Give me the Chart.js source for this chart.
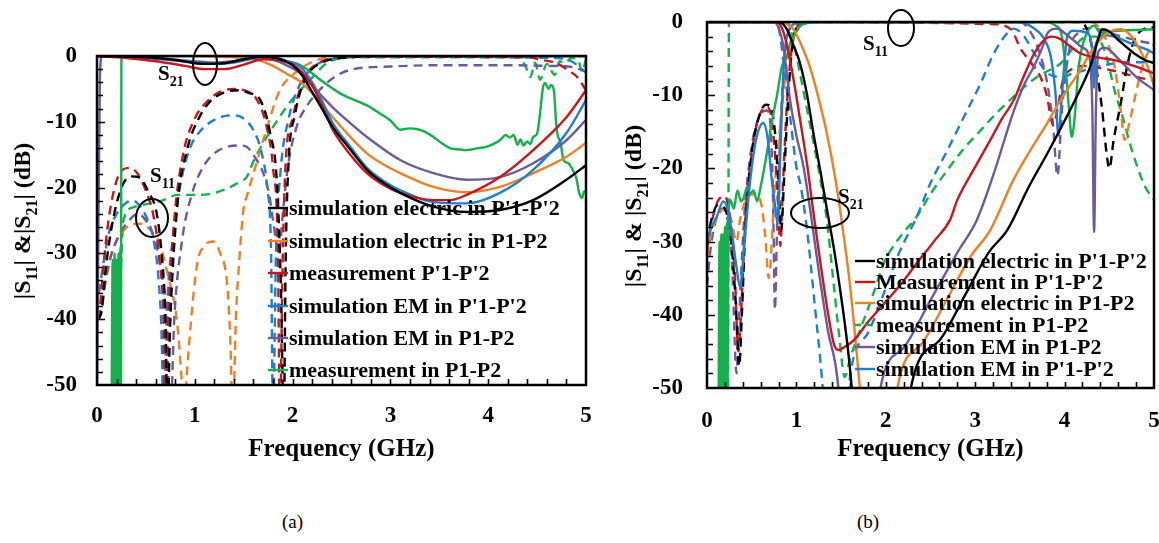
<!DOCTYPE html>
<html>
<head>
<meta charset="utf-8">
<script src="https://cdn.jsdelivr.net/npm/chart.js@4.4.0/dist/chart.umd.min.js"></script>
<style>
    body { margin: 0; background: #fff; width: 1159px; height: 543px; position: relative; overflow: hidden; }
    #chartA { position: absolute; left: 0; top: 0; }
    #chartB { position: absolute; left: 600px; top: 0; }
    .legenda { position: absolute; top: 511px; font: 19px 'Liberation Serif', 'Times New Roman', serif; color: #000; }
</style>
</head>
<body>
<canvas id="chartA" width="600" height="480"></canvas>
<canvas id="chartB" width="559" height="480"></canvas>
<div class="legenda" style="left:282px">(a)</div>
<div class="legenda" style="left:857px">(b)</div>
<script>
// tick values
const xTicks = [0, 1, 2, 3, 4, 5];
const yTicks = [0, -10, -20, -30, -40, -50];

// ---- (a) [GHz, dB] ----
const aBlackS21 = [[0,0],[0.5,-0.2],[0.8,-0.6],[1.1,-1.2],[1.3,-1.1],[1.5,-0.5],[1.7,-0.1],[1.85,-0.4],[2.0,-1.4],[2.1,-3.0],[2.2,-5.5],[2.3,-8],[2.41,-10.8],[2.59,-14.2],[2.76,-17.3],[2.93,-19.3],[3.1,-20.8],[3.44,-22.9],[3.78,-23.7],[4.12,-23.4],[4.46,-21.9],[4.8,-18.8],[5,-16.6]];
const aOrangeS21 = [[0,0],[1.0,0],[1.4,-0.2],[1.64,-0.6],[1.8,-1.5],[1.95,-2.8],[2.08,-3.9],[2.25,-6.5],[2.41,-9.3],[2.59,-12.3],[2.76,-14.8],[2.93,-16.5],[3.1,-17.8],[3.44,-19.9],[3.78,-20.7],[4.12,-19.9],[4.46,-17.8],[4.8,-15.3],[5,-13.2]];
const aRedS21 = [[0,0],[0.3,-0.3],[0.6,-0.8],[0.9,-1.5],[1.1,-2.0],[1.3,-2.0],[1.5,-1.3],[1.7,-0.5],[1.85,-0.6],[2.0,-1.3],[2.1,-2.5],[2.2,-4.5],[2.3,-7.5],[2.41,-11.2],[2.59,-15],[2.76,-17.8],[2.93,-19.6],[3.1,-20.8],[3.44,-21.9],[3.61,-21.9],[3.78,-21.1],[4.12,-18.4],[4.46,-14.3],[4.8,-9.3],[5,-5.2]];
const aBlueS21 = [[0,0],[0.5,-0.3],[0.9,-0.8],[1.2,-1.2],[1.4,-1.0],[1.6,-0.4],[1.8,-0.2],[1.95,-0.8],[2.08,-1.6],[2.2,-4],[2.3,-6.8],[2.41,-10.2],[2.59,-13.8],[2.76,-17],[2.93,-19],[3.1,-20.4],[3.44,-22.2],[3.78,-22.4],[4.12,-20.8],[4.46,-17.3],[4.8,-11.7],[5,-6.7]];
const aPurpleS21 = [[0,-52],[0.015,-25],[0.03,-3],[0.05,0],[0.6,-0.3],[1.0,-0.8],[1.2,-1.0],[1.4,-0.8],[1.6,-0.4],[1.8,-0.6],[1.95,-1.5],[2.08,-2.6],[2.2,-4.5],[2.41,-7.8],[2.59,-10.2],[2.76,-12.3],[3.1,-15.8],[3.44,-17.8],[3.78,-18.8],[4.12,-18.4],[4.46,-16.3],[4.8,-12.8],[5,-9.7]];
const aGreenS21 = [[0.15,-52],[0.16,-31],[0.17,-52],[0.18,-30],[0.19,-52],[0.2,-31],[0.21,-52],[0.22,-30],[0.23,-52],[0.24,-29],[0.245,-52],[0.25,0],[1.5,0],[1.7,-0.2],[1.9,-0.7],[2.08,-1.4],[2.3,-3.8],[2.5,-5.8],[2.76,-7.5],[2.9,-8.8],[3.0,-9.8],[3.1,-11.2],[3.2,-11.0],[3.27,-11.1],[3.35,-11.5],[3.44,-12.3],[3.52,-13.2],[3.61,-14.0],[3.7,-14.2],[3.78,-14.3],[3.9,-14.0],[3.98,-13.8],[4.05,-13.4],[4.12,-12.8],[4.18,-12.0],[4.22,-12.4],[4.26,-12.0],[4.3,-13.5],[4.33,-12.7],[4.36,-13.6],[4.4,-13.0],[4.43,-13.4],[4.46,-12.3],[4.5,-11.8],[4.53,-8.7],[4.56,-4.8],[4.58,-4.1],[4.62,-5.0],[4.64,-4.4],[4.67,-5.1],[4.7,-11.2],[4.74,-13.2],[4.77,-15.8],[4.82,-16.3],[4.86,-17.2],[4.9,-18.5],[4.93,-20.8],[4.96,-21.6],[4.98,-20.6],[5,-20.7]];

const aBlackS11 = [[0.01,-40],[0.05,-38.6],[0.08,-33.6],[0.15,-26],[0.25,-20],[0.35,-18.3],[0.44,-18.5],[0.52,-20.5],[0.61,-23.9],[0.66,-30],[0.7,-40],[0.72,-55],[0.75,-40],[0.82,-23],[0.92,-14.3],[1.05,-9.2],[1.15,-7],[1.29,-5.6],[1.45,-5.2],[1.55,-5.6],[1.67,-6.7],[1.77,-11.7],[1.84,-19.3],[1.88,-35],[1.91,-55],[1.93,-30],[1.96,-15.8],[2.02,-9.2],[2.11,-4.1],[2.3,-1],[2.6,-0.2],[3,0],[5,0]];
const aOrangeS11 = [[0.02,-40],[0.08,-35],[0.15,-30],[0.25,-27],[0.35,-25.6],[0.45,-25.5],[0.55,-26.5],[0.64,-28.5],[0.72,-33],[0.82,-40.6],[0.86,-48],[0.89,-55],[0.92,-48],[1.02,-32],[1.1,-28.8],[1.19,-28.2],[1.26,-30],[1.33,-34.5],[1.36,-42],[1.39,-55],[1.42,-40],[1.46,-30],[1.5,-23],[1.53,-21.4],[1.64,-15.8],[1.74,-10.8],[1.87,-5.2],[2.04,-2.4],[2.25,-0.6],[2.5,-0.1],[5,0]];
const aRedS11 = [[0.02,-40],[0.05,-35],[0.1,-27],[0.18,-20],[0.27,-17.2],[0.34,-17],[0.42,-18],[0.5,-20.5],[0.58,-24.5],[0.64,-31],[0.68,-40],[0.7,-55],[0.73,-40],[0.79,-25],[0.88,-15],[1.0,-9.5],[1.12,-7],[1.25,-5.5],[1.4,-5.0],[1.52,-5.3],[1.63,-6.5],[1.73,-10.5],[1.8,-17],[1.85,-30],[1.87,-55],[1.9,-30],[1.93,-16],[2.0,-9.5],[2.1,-4],[2.3,-0.8],[2.6,-0.1],[4.4,-0.2],[4.55,-0.6],[4.7,-1.1],[4.8,-2],[4.91,-3.2],[5,-5.2]];
const aBlueS11 = [[0.02,-36],[0.06,-32],[0.12,-27],[0.2,-24],[0.3,-22.3],[0.37,-22],[0.45,-23],[0.52,-25],[0.58,-28],[0.63,-34],[0.66,-42],[0.68,-55],[0.71,-40],[0.78,-27],[0.86,-19],[0.95,-14],[1.05,-11.5],[1.2,-9.7],[1.39,-9.0],[1.5,-9.5],[1.6,-11.3],[1.68,-14.5],[1.74,-20],[1.78,-30],[1.8,-55],[1.83,-30],[1.88,-17],[1.96,-9.5],[2.06,-4.8],[2.2,-1.8],[2.4,-0.5],[2.7,-0.1],[4.7,-0.3],[4.85,-0.8],[5,-2.5]];
const aPurpleS11 = [[0.02,-40],[0.05,-38],[0.1,-33],[0.2,-28],[0.3,-25.5],[0.42,-24],[0.5,-25],[0.58,-27.5],[0.65,-32],[0.71,-40],[0.75,-55],[0.79,-40],[0.87,-28],[0.97,-21],[1.1,-16.5],[1.25,-14.3],[1.46,-13.6],[1.53,-13.8],[1.62,-15.5],[1.7,-17.8],[1.76,-21],[1.8,-25],[1.86,-30],[1.9,-24],[1.95,-17],[2.04,-10.8],[2.15,-7.5],[2.25,-5.6],[2.4,-3.5],[2.59,-2.1],[3,-1.6],[3.51,-1.4],[4.2,-1.4],[4.6,-1.5],[4.87,-1.7],[5,-2.4]];
const aGreenS11 = [[0.21,-55],[0.23,-40],[0.25,-30],[0.27,-25],[0.37,-23],[0.54,-22.4],[0.68,-21.9],[0.82,-21.1],[1.05,-21.1],[1.29,-20.4],[1.45,-19.2],[1.53,-18.4],[1.6,-16],[1.7,-13.2],[1.87,-9.2],[2.0,-6.5],[2.15,-4.1],[2.35,-1.1],[2.6,-0.2],[4.3,-0.2],[4.38,-1.5],[4.43,-3.2],[4.48,-1.0],[4.53,-3.6],[4.6,-1.2],[4.68,-2.9],[4.73,-0.8],[4.78,-1.1],[4.85,-0.3],[4.92,-0.6],[4.96,-2.4],[5,-0.5]];

// ---- (b) [GHz, dB] ----
const bBlackS21 = [[0,0],[0.8,0],[0.89,-0.9],[0.96,-3],[1.04,-5.6],[1.12,-10],[1.19,-15.2],[1.27,-20.5],[1.34,-25.5],[1.42,-31],[1.5,-37.5],[1.57,-44],[1.62,-50],[1.66,-56],[2.24,-56],[2.28,-50],[2.6,-43.5],[2.9,-37],[3.15,-31.5],[3.36,-28.4],[3.6,-22.5],[3.81,-17.9],[4.0,-13.5],[4.18,-9.1],[4.29,-6],[4.36,-3],[4.42,-1],[4.5,-1.3],[4.56,-2],[4.67,-3.2],[4.78,-4.3],[4.9,-5.2],[5,-5.6]];
const bRedS21 = [[0,0],[0.78,0],[0.85,-1.2],[0.9,-3.5],[0.97,-8],[1.05,-14],[1.12,-19.5],[1.19,-26],[1.27,-33],[1.35,-39.5],[1.42,-44],[1.47,-44.8],[1.55,-44.3],[1.64,-43.5],[1.8,-41],[1.98,-38.5],[2.17,-35.8],[2.35,-32.9],[2.55,-29.8],[2.72,-27],[2.8,-24.3],[3.0,-19.8],[3.17,-16.1],[3.3,-13.2],[3.43,-10.7],[3.55,-7.2],[3.66,-4.3],[3.76,-2.6],[3.85,-2],[3.95,-2.3],[4.05,-3.2],[4.18,-4.3],[4.4,-4.9],[4.56,-5.2],[4.8,-6.1],[5,-7]];
const bOrangeS21 = [[0,0],[0.85,0],[0.92,-0.5],[0.97,-1],[1.05,-3],[1.15,-6.1],[1.25,-10.5],[1.34,-15.2],[1.43,-21],[1.51,-27.5],[1.6,-36],[1.71,-50],[1.75,-56],[2.09,-56],[2.13,-50],[2.4,-44],[2.7,-37.5],[2.95,-32],[3.17,-28.4],[3.43,-21.5],[3.81,-13.7],[4.0,-9.8],[4.18,-6.5],[4.3,-4],[4.45,-1.8],[4.55,-1.1],[4.63,-1],[4.75,-2],[4.85,-4],[4.93,-6.1],[5,-8.7]];
const bGreenS21 = [[0.2,-56],[0.235,-50],[0.24,-25],[0.245,0],[0.9,0],[0.97,-2.8],[1.04,-7],[1.12,-12],[1.2,-17],[1.27,-21.6],[1.34,-27],[1.41,-35],[1.48,-43],[1.54,-48.5],[1.6,-46],[1.7,-42.5],[1.85,-37.5],[1.98,-32.9],[2.15,-29.5],[2.35,-26.5],[2.5,-23.5],[2.69,-20.2],[2.88,-17.2],[3.06,-14.8],[3.25,-12.3],[3.43,-10.2],[3.69,-7.5],[3.96,-5.6],[4.1,-3.5],[4.25,-2],[4.35,-2],[4.45,-4],[4.56,-9.4],[4.65,-13],[4.74,-17],[4.82,-20],[4.9,-22.5],[5,-24.3]];
const bPurpleS21 = [[0,0],[0.75,0],[0.8,-0.8],[0.85,-3],[0.93,-10.7],[1.0,-15.5],[1.08,-19.8],[1.17,-27],[1.25,-34],[1.35,-42],[1.47,-50],[1.5,-56],[1.9,-56],[1.94,-50],[2.2,-44.5],[2.5,-38],[2.8,-31.5],[3.02,-27],[3.2,-21],[3.43,-12.2],[3.55,-8.5],[3.66,-6],[3.75,-3.5],[3.81,-1.5],[3.92,-0.9],[4.0,-1.5],[4.1,-2.5],[4.2,-3.5],[4.28,-5],[4.31,-12],[4.33,-28.7],[4.35,-12],[4.38,-4],[4.45,-3.5],[4.6,-5],[4.8,-7.5],[5,-9.3]];
const bBlueS21 = [[0,0],[0.78,0],[0.82,-2],[0.86,-6],[0.93,-13],[1.0,-19.8],[1.05,-22.5],[1.12,-28.5],[1.2,-38],[1.29,-49.3],[1.33,-56],[1.56,-56],[1.6,-48.5],[1.8,-42.5],[1.98,-37],[2.15,-31.5],[2.35,-26.5],[2.5,-22],[2.69,-17.5],[2.88,-12.8],[3.06,-8.4],[3.2,-4.5],[3.36,-1.5],[3.43,-0.9],[3.55,-2],[3.66,-4.3],[3.81,-7],[3.96,-7.5],[4.1,-7],[4.25,-6.5],[4.4,-6],[4.7,-5.5],[5,-5.5]];

const bBlackS11 = [[0,-30],[0.05,-27],[0.12,-25],[0.2,-25.5],[0.27,-30],[0.32,-38],[0.36,-47],[0.39,-40],[0.43,-28],[0.5,-18],[0.58,-13],[0.66,-11.3],[0.71,-11.5],[0.76,-15],[0.8,-22],[0.83,-28.5],[0.86,-22],[0.9,-12],[0.94,-5],[0.98,-1.5],[1.05,-0.3],[1.3,0],[4.15,0],[4.25,-1],[4.35,-6],[4.42,-12],[4.47,-18],[4.5,-20],[4.55,-16],[4.63,-11],[4.7,-6],[4.78,-2.5],[4.88,-1],[5,-0.7]];
const bRedS11 = [[0,-31],[0.05,-27.5],[0.12,-24.5],[0.2,-23.8],[0.26,-27],[0.31,-34],[0.35,-45],[0.38,-40],[0.43,-27],[0.5,-18],[0.58,-13],[0.67,-11.6],[0.72,-13],[0.76,-18],[0.8,-26],[0.82,-30.6],[0.85,-22],[0.9,-10],[0.95,-3.5],[1.0,-0.8],[1.1,0],[3.2,-0.3],[3.4,-1],[3.51,-3.7],[3.62,-5.5],[3.73,-7.5],[3.8,-10],[3.87,-14],[3.92,-12],[3.98,-8],[4.07,-6.5],[4.2,-6],[4.4,-6.3],[4.6,-6.8],[4.8,-7.5],[5,-8]];
const bOrangeS11 = [[0,-32],[0.05,-28.8],[0.12,-26.5],[0.2,-25.5],[0.27,-27],[0.33,-30],[0.37,-27],[0.45,-24],[0.53,-23.5],[0.6,-24.5],[0.65,-29],[0.69,-35],[0.71,-33],[0.75,-24],[0.82,-14],[0.88,-7],[0.93,-3],[1.0,-0.8],[1.1,0],[4.3,0],[4.4,-1],[4.5,-3.5],[4.56,-6.1],[4.63,-12.2],[4.67,-16.1],[4.72,-14],[4.78,-10.7],[4.85,-7],[4.92,-4.5],[5,-3]];
const bGreenS11 = [[0.13,-52],[0.14,-30],[0.15,-52],[0.16,-29],[0.17,-52],[0.18,-29],[0.19,-52],[0.2,-28],[0.21,-52],[0.22,-27.5],[0.23,-52],[0.24,-27],[0.26,-24.3],[0.3,-25.5],[0.34,-23],[0.38,-24.5],[0.41,-24],[0.45,-22.5],[0.48,-23.5],[0.52,-23],[0.56,-24.5],[0.6,-22.5],[0.67,-17.9],[0.72,-14],[0.78,-10.2],[0.84,-6],[0.89,-4.8],[0.93,-3],[0.97,-2],[1.05,-0.5],[1.2,0],[3.8,0],[3.9,-0.5],[3.96,-1.5],[4.01,-6],[4.05,-12],[4.08,-15.7],[4.12,-12],[4.15,-7],[4.18,-4.3],[4.25,-1.5],[4.33,-0.5],[4.4,-1.5],[4.6,-1.2],[5,-1]];
const bPurpleS11 = [[0,-36],[0.04,-31],[0.1,-27],[0.17,-25.5],[0.23,-27],[0.28,-33],[0.33,-48],[0.36,-40],[0.42,-26],[0.5,-17],[0.58,-13],[0.67,-12.1],[0.71,-14],[0.74,-25],[0.76,-39.3],[0.78,-30],[0.82,-15],[0.86,-6],[0.9,-2],[0.95,-0.5],[1.05,0],[3.5,0],[3.6,-1],[3.7,-3.5],[3.8,-8],[3.87,-14],[3.92,-21],[3.97,-12],[4.05,-4],[4.15,-1.5],[4.3,-0.8],[4.5,-1.5],[4.8,-2.5],[5,-3]];
const bBlueS11 = [[0,-30],[0.05,-28],[0.11,-26.6],[0.18,-24.5],[0.23,-25.5],[0.28,-29],[0.33,-33.5],[0.37,-36.2],[0.42,-30],[0.48,-22],[0.55,-16],[0.63,-13.8],[0.68,-16],[0.72,-21],[0.76,-25],[0.79,-27.5],[0.82,-18],[0.85,-8],[0.88,-3],[0.92,-1],[1.0,-0.2],[1.2,0],[3.5,0],[3.65,-0.8],[3.78,-2.5],[3.85,-5],[3.9,-10],[3.93,-15.5],[3.97,-10],[4.03,-2],[4.1,-1.2],[4.25,-1.5],[4.31,-4],[4.33,-9],[4.35,-3],[4.45,-1.8],[4.56,-2],[4.75,-3],[4.93,-3.8],[5,-4.3]];

const legendA = ["simulation electric in P'1-P'2", "simulation electric in P1-P2", "measurement P'1-P'2", "simulation EM in P'1-P'2", "simulation EM in P1-P2", "measurement in P1-P2"];
const legendB = ["simulation electric in P'1-P'2", "Measurement in P'1-P'2", "simulation electric in P1-P2", "measurement in P1-P2", "simulation EM in P1-P2", "simulation EM in P'1-P'2"];

const preto = '#000000';
const laranja = '#EF7F22';
const vermelho = '#C8161E';
const azul = '#1E7ED2';
const roxo = '#6E5A98';
const verde = '#14B04E';

const fonte = "'Liberation Serif', 'Times New Roman', serif";
Chart.defaults.font.family = fonte;
Chart.defaults.color = '#000';

function linha(pontos, cor, tracejado) {
    return {
        data: pontos.map(p => ({ x: p[0], y: p[1] })),
        borderColor: cor,
        borderWidth: 2.4,
        borderDash: tracejado ? [9, 6] : [],
        pointRadius: 0,
        cubicInterpolationMode: 'monotone',
        fill: false
    };
}

// texto com subscritos: [texto, subscrito?]
function textoRico(ctx, partes, x, y, tam, tamSub) {
    let px = x;
    partes.forEach(p => {
        ctx.font = 'bold ' + (p[1] ? tamSub : tam) + 'px ' + fonte;
        ctx.fillText(p[0], px, p[1] ? y + tam * 0.28 : y);
        px += ctx.measureText(p[0]).width;
    });
}

function larguraRica(ctx, partes, tam, tamSub) {
    let w = 0;
    partes.forEach(p => {
        ctx.font = 'bold ' + (p[1] ? tamSub : tam) + 'px ' + fonte;
        w += ctx.measureText(p[0]).width;
    });
    return w;
}

const extras = {
    id: 'extras',
    afterDatasetsDraw(chart, args, opts) {
        const ctx = chart.ctx;
        ctx.save();
        ctx.fillStyle = '#000';
        ctx.textBaseline = 'alphabetic';
        // elipses
        ctx.strokeStyle = '#000';
        ctx.lineWidth = 2;
        opts.elipses.forEach(e => {
            ctx.beginPath();
            ctx.ellipse(e[0], e[1], e[2], e[3], 0, 0, Math.PI * 2);
            ctx.stroke();
        });
        // rotulos S
        opts.rotulos.forEach(r => {
            textoRico(ctx, [['S', false], [r[2], true]], r[0], r[1], 21, 14);
        });
        // legenda
        opts.legenda.forEach((item, i) => {
            const y = opts.legY[i];
            ctx.beginPath();
            ctx.strokeStyle = item.cor;
            ctx.lineWidth = 2.4;
            ctx.setLineDash(item.tracejado ? [6, 4] : []);
            ctx.moveTo(opts.legX[0], y);
            ctx.lineTo(opts.legX[1], y);
            ctx.stroke();
            ctx.setLineDash([]);
            ctx.font = 'bold 22px ' + fonte;
            ctx.textBaseline = 'middle';
            ctx.fillText(item.texto, opts.legX[2], y + 1);
            ctx.textBaseline = 'alphabetic';
        });
        // titulo do eixo y
        const partes = opts.tituloY;
        const w = larguraRica(ctx, partes, 24, 16);
        ctx.translate(opts.tituloPos[0], opts.tituloPos[1]);
        ctx.rotate(-Math.PI / 2);
        textoRico(ctx, partes, -w / 2, 8, 24, 16);
        ctx.restore();
    },
    afterDraw(chart) {
        const ctx = chart.ctx;
        const a = chart.chartArea;
        const x = chart.scales.x;
        const y = chart.scales.y;
        ctx.save();
        ctx.strokeStyle = '#000';
        ctx.lineWidth = 1.6;
        ctx.beginPath();
        for (let v = -48; v < 0; v += 2) {
            const py = Math.round(y.getPixelForValue(v)) + 0.5;
            ctx.moveTo(a.left, py);
            ctx.lineTo(a.left + (v % 10 === 0 ? 8 : 6), py);
        }
        for (let i = 1; i < 25; i++) {
            const px = Math.round(x.getPixelForValue(i * 0.2)) + 0.5;
            ctx.moveTo(px, a.bottom);
            ctx.lineTo(px, a.bottom - 6);
        }
        ctx.stroke();
        ctx.lineWidth = 2.5;
        ctx.strokeRect(a.left, a.top, a.right - a.left, a.bottom - a.top);
        ctx.restore();
    }
};

function eixos(padX, padY, alturaX, larguraY) {
    return {
        x: {
            type: 'linear', min: 0, max: 5,
            afterBuildTicks: s => { s.ticks = xTicks.map(v => ({ value: v })); },
            afterFit: s => { s.height = alturaX; s.paddingLeft = 0; s.paddingRight = 0; },
            grid: { display: false, drawTicks: false },
            border: { display: false },
            ticks: { padding: padX, maxRotation: 0, font: { size: 23, weight: 'bold' }, color: '#000' },
            title: { display: true, text: 'Frequency (GHz)', color: '#000', font: { size: 25, weight: 'bold' }, padding: { top: 0, bottom: 15 } }
        },
        y: {
            type: 'linear', min: -50, max: 0,
            afterBuildTicks: s => { s.ticks = yTicks.map(v => ({ value: v })); },
            afterFit: s => { s.width = larguraY; s.paddingTop = 0; s.paddingBottom = 0; },
            grid: { display: false, drawTicks: false },
            border: { display: false },
            ticks: { padding: padY, font: { size: 23, weight: 'bold' }, color: '#000' }
        }
    };
}

const ctxA = document.getElementById('chartA');
var chartA = new Chart(ctxA, {
    type: 'line',
    data: {
        datasets: [
            linha(aBlackS21, preto, false),
            linha(aRedS21, vermelho, false),
            linha(aBlueS21, azul, false),
            linha(aOrangeS21, laranja, false),
            linha(aPurpleS21, roxo, false),
            linha(aGreenS21, verde, false),
            linha(aBlackS11, preto, true),
            linha(aRedS11, vermelho, true),
            linha(aBlueS11, azul, true),
            linha(aPurpleS11, roxo, true),
            linha(aOrangeS11, laranja, true),
            linha(aGreenS11, verde, true)
        ]
    },
    options: {
        responsive: false,
        animation: false,
        devicePixelRatio: 1,
        layout: { padding: { top: 56, right: 14, bottom: 0, left: 0 } },
        scales: eixos(17, 20, 95, 97),
        plugins: {
            legend: { display: false },
            tooltip: { enabled: false },
            extras: {
                elipses: [[205, 64, 12, 21], [152, 218, 16, 19]],
                rotulos: [[158, 80, '21'], [150, 182, '11']],
                legenda: [
                    { texto: legendA[0], cor: preto },
                    { texto: legendA[1], cor: laranja },
                    { texto: legendA[2], cor: vermelho },
                    { texto: legendA[3], cor: azul },
                    { texto: legendA[4], cor: roxo },
                    { texto: legendA[5], cor: verde }
                ],
                legX: [268, 288, 289],
                legY: [208, 241, 273, 306, 338, 370],
                tituloY: [['|S', false], ['11', true], ['| &|S', false], ['21', true], ['| (dB)', false]],
                tituloPos: [22, 221]
            }
        }
    },
    plugins: [extras]
});

const ctxB = document.getElementById('chartB');
var chartB = new Chart(ctxB, {
    type: 'line',
    data: {
        datasets: [
            linha(bBlackS21, preto, false),
            linha(bRedS21, vermelho, false),
            linha(bOrangeS21, laranja, false),
            linha(bPurpleS21, roxo, false),
            linha(bBlueS11, azul, false),
            linha(bGreenS11, verde, false),
            linha(bBlackS11, preto, true),
            linha(bRedS11, vermelho, true),
            linha(bOrangeS11, laranja, true),
            linha(bPurpleS11, roxo, true),
            linha(bBlueS21, azul, true),
            linha(bGreenS21, verde, true)
        ]
    },
    options: {
        responsive: false,
        animation: false,
        devicePixelRatio: 1,
        layout: { padding: { top: 22, right: 5, bottom: 0, left: 0 } },
        scales: eixos(19, 24, 92, 107),
        plugins: {
            legend: { display: false },
            tooltip: { enabled: false },
            extras: {
                elipses: [[301, 28, 13, 18], [220, 213, 29, 15]],
                rotulos: [[263, 50, '11'], [238, 203, '21']],
                legenda: [
                    { texto: legendB[0], cor: preto },
                    { texto: legendB[1], cor: vermelho },
                    { texto: legendB[2], cor: laranja },
                    { texto: legendB[3], cor: verde, tracejado: true },
                    { texto: legendB[4], cor: roxo },
                    { texto: legendB[5], cor: azul }
                ],
                legX: [255, 275, 276],
                legY: [261, 282, 303, 325, 347, 369],
                tituloY: [['|S', false], ['11', true], ['| & |S', false], ['21', true], ['| (dB)', false]],
                tituloPos: [33, 206]
            }
        }
    },
    plugins: [extras]
});
</script>
</body>
</html>
